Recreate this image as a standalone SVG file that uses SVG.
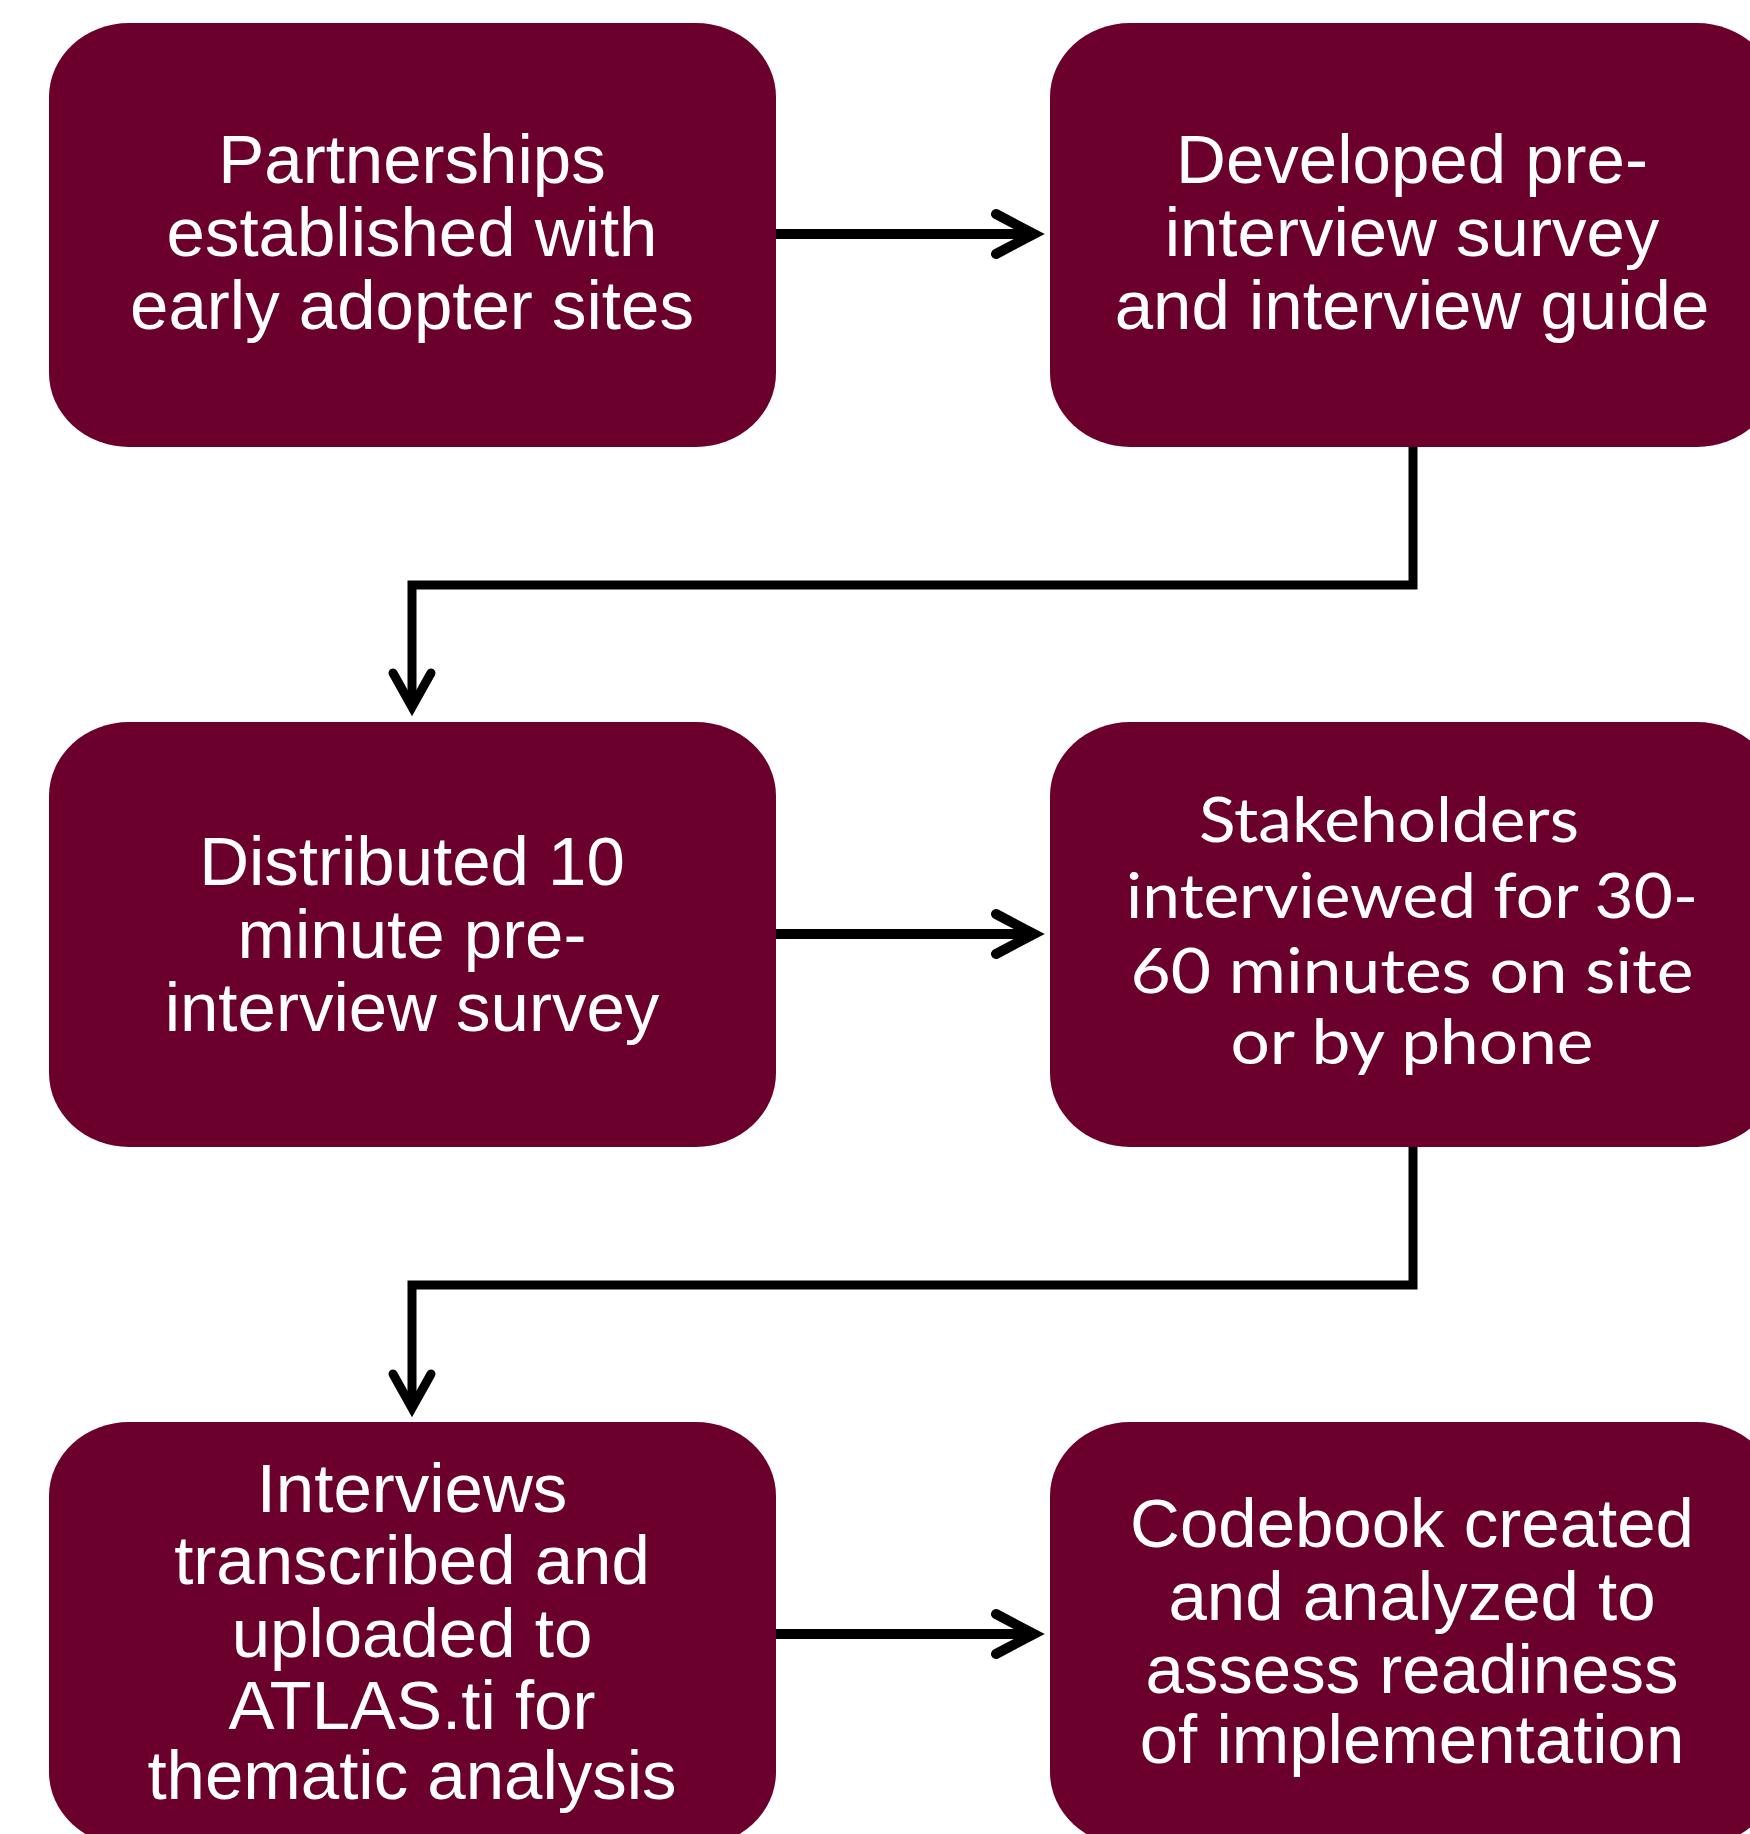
<svg xmlns="http://www.w3.org/2000/svg" width="1750" height="1834" viewBox="0 0 1750 1834">
<style>
.box{fill:#6C002D}
.t{font-family:"Liberation Sans",Arial,sans-serif;font-size:69px;fill:#fff;text-anchor:middle}
.c{font-family:Lato,"Liberation Sans",sans-serif;font-size:62px;fill:#fff;text-anchor:middle}
.ln{fill:none;stroke:#000;stroke-width:9;stroke-linejoin:miter}
.hd{fill:none;stroke:#000;stroke-width:10;stroke-linecap:round;stroke-linejoin:miter}
</style>
<rect width="1750" height="1834" fill="#fff"/>
<g id="connectors">
<line class="ln" x1="776" y1="234" x2="1030" y2="234" style="stroke-width:10"/>
<polyline class="hd" points="996,214 1034,234 996,254"/>
<line class="ln" x1="776" y1="934" x2="1030" y2="934" style="stroke-width:10"/>
<polyline class="hd" points="996,914 1034,934 996,954"/>
<line class="ln" x1="776" y1="1634" x2="1030" y2="1634" style="stroke-width:10"/>
<polyline class="hd" points="996,1614 1034,1634 996,1654"/>
<polyline class="ln" points="1413,447 1413,585 412,585 412,704"/>
<polyline class="hd" style="stroke-width:9" points="393,673 412,707 431,673"/>
<polyline class="ln" points="1413,1147 1413,1285 412,1285 412,1405"/>
<polyline class="hd" style="stroke-width:9" points="393,1374 412,1408 431,1374"/>
</g>
<g id="n1">
<rect class="box" x="49" y="23" width="727" height="424" rx="80" ry="74"/>
<text class="t" x="412" y="183">Partnerships</text>
<text class="t" x="412" y="256">established with</text>
<text class="t" x="412" y="329">early adopter sites</text>
</g>
<g id="n2">
<rect class="box" x="1050" y="23" width="727" height="424" rx="80" ry="74"/>
<text class="t" x="1412" y="183">Developed pre-</text>
<text class="t" x="1412" y="256">interview survey</text>
<text class="t" x="1412" y="329">and interview guide</text>
</g>
<g id="n3">
<rect class="box" x="49" y="722" width="727" height="425" rx="80" ry="74"/>
<text class="t" x="412" y="885">Distributed 10</text>
<text class="t" x="412" y="958">minute pre-</text>
<text class="t" x="412" y="1031">interview survey</text>
</g>
<g id="n4">
<rect class="box" x="1050" y="722" width="727" height="425" rx="80" ry="74"/>
<text class="c" x="1389" y="842" textLength="380" lengthAdjust="spacingAndGlyphs">Stakeholders</text>
<text class="c" x="1412" y="918" textLength="572" lengthAdjust="spacingAndGlyphs">interviewed for 30-</text>
<text class="c" x="1412" y="993" textLength="563" lengthAdjust="spacingAndGlyphs">60 minutes on site</text>
<text class="c" x="1412" y="1064" textLength="363" lengthAdjust="spacingAndGlyphs">or by phone</text>
</g>
<g id="n5">
<rect class="box" x="49" y="1422" width="727" height="424" rx="80" ry="74"/>
<text class="t" x="412" y="1512">Interviews</text>
<text class="t" x="412" y="1584">transcribed and</text>
<text class="t" x="412" y="1657">uploaded to</text>
<text class="t" x="412" y="1729">ATLAS.ti for</text>
<text class="t" x="412" y="1799">thematic analysis</text>
</g>
<g id="n6">
<rect class="box" x="1050" y="1422" width="727" height="424" rx="80" ry="74"/>
<text class="t" x="1412" y="1547">Codebook created</text>
<text class="t" x="1412" y="1620">and analyzed to</text>
<text class="t" x="1412" y="1693">assess readiness</text>
<text class="t" x="1412" y="1763">of implementation</text>
</g>
</svg>
